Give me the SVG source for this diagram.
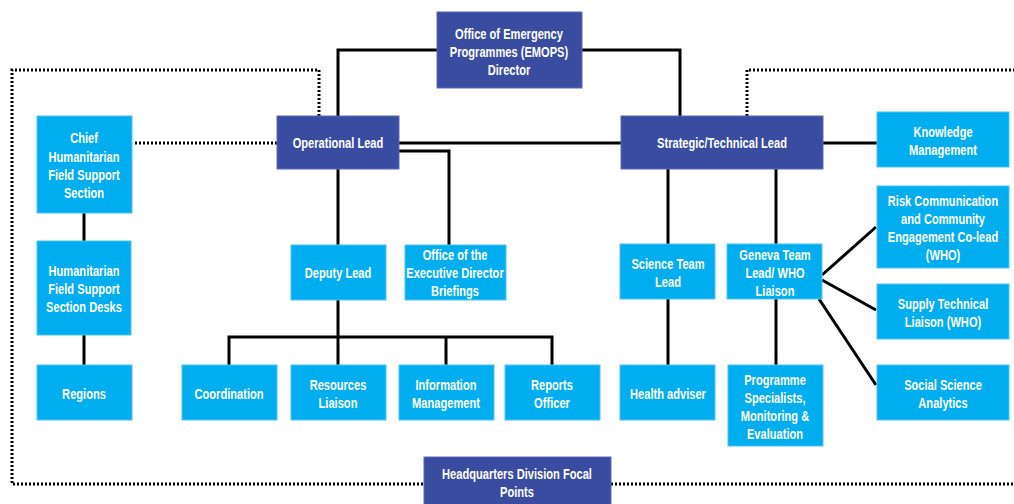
<svg xmlns="http://www.w3.org/2000/svg" width="1014" height="504" viewBox="0 0 1014 504">
<style>
.dk{fill:#3A4CA0;stroke:#5A6BB8;stroke-width:1}
.lt{fill:#00AEEF;stroke:#4CC4F2;stroke-width:1}
text{font-family:"Liberation Sans",Arial,sans-serif;font-weight:bold;font-size:15px;fill:#fff;text-anchor:middle}
.ln{fill:none;stroke:#000;stroke-width:3}
.dot{fill:none;stroke:#000;stroke-width:3;stroke-dasharray:2 2}
</style>
<rect width="1014" height="504" fill="#fff"/>
<g id="connectors">
<path class="dot" d="M319,116 V70 H12 V484 H424"/>
<path class="dot" d="M611,484 H1014"/>
<path class="dot" d="M747,116 V70 H1014"/>
<path class="dot" d="M135,143 H277"/>
<path class="ln" d="M437,50 H338 V116"/>
<path class="ln" d="M582,50 H680 V116"/>
<path class="ln" d="M399,143 H621"/>
<path class="ln" d="M823,143 H877"/>
<path class="ln" d="M399,151 H449 V245"/>
<path class="ln" d="M338,169 V245"/>
<path class="ln" d="M338,300 V365"/>
<path class="ln" d="M229,365 V337 H552 V365"/>
<path class="ln" d="M446,337 V365"/>
<path class="ln" d="M84,213 V241"/>
<path class="ln" d="M84,335 V365"/>
<path class="ln" d="M668,169 V244"/>
<path class="ln" d="M776,169 V244"/>
<path class="ln" d="M668,299 V365"/>
<path class="ln" d="M776,299 V365"/>
<path class="ln" d="M822,275 L876,227"/>
<path class="ln" d="M822,280 L876,310"/>
<path class="ln" d="M819,299 L876,385"/>
</g>
<g id="emops"><rect class="dk" x="437" y="12" width="145" height="76"/><g transform="matrix(0.74 0 0 1 509 0)"><text x="0" y="39">Office of Emergency</text><text x="0" y="57">Programmes (EMOPS)</text><text x="0" y="75">Director</text></g></g>
<g id="oplead"><rect class="dk" x="277" y="116" width="122" height="53"/><g transform="matrix(0.74 0 0 1 338 0)"><text x="0" y="148">Operational Lead</text></g></g>
<g id="stratlead"><rect class="dk" x="621" y="116" width="202" height="53"/><g transform="matrix(0.74 0 0 1 722 0)"><text x="0" y="148">Strategic/Technical Lead</text></g></g>
<g id="km"><rect class="lt" x="877" y="112" width="132" height="55"/><g transform="matrix(0.74 0 0 1 943 0)"><text x="0" y="137">Knowledge</text><text x="0" y="155">Management</text></g></g>
<g id="chief"><rect class="lt" x="37" y="116" width="95" height="97"/><g transform="matrix(0.74 0 0 1 84 0)"><text x="0" y="143">Chief</text><text x="0" y="162">Humanitarian</text><text x="0" y="180">Field Support</text><text x="0" y="198">Section</text></g></g>
<g id="hfssdesks"><rect class="lt" x="37" y="241" width="94" height="94"/><g transform="matrix(0.74 0 0 1 84 0)"><text x="0" y="276">Humanitarian</text><text x="0" y="294">Field Support</text><text x="0" y="312">Section Desks</text></g></g>
<g id="regions"><rect class="lt" x="37" y="365" width="95" height="55"/><g transform="matrix(0.74 0 0 1 84 0)"><text x="0" y="399">Regions</text></g></g>
<g id="deputy"><rect class="lt" x="291" y="245" width="95" height="55"/><g transform="matrix(0.74 0 0 1 338 0)"><text x="0" y="278">Deputy Lead</text></g></g>
<g id="oed"><rect class="lt" x="405" y="245" width="101" height="55"/><g transform="matrix(0.74 0 0 1 455 0)"><text x="0" y="260">Office of the</text><text x="0" y="278">Executive Director</text><text x="0" y="296">Briefings</text></g></g>
<g id="coord"><rect class="lt" x="182" y="365" width="95" height="55"/><g transform="matrix(0.74 0 0 1 229 0)"><text x="0" y="399">Coordination</text></g></g>
<g id="resources"><rect class="lt" x="291" y="365" width="95" height="55"/><g transform="matrix(0.74 0 0 1 338 0)"><text x="0" y="390">Resources</text><text x="0" y="408">Liaison</text></g></g>
<g id="infomgmt"><rect class="lt" x="399" y="365" width="95" height="55"/><g transform="matrix(0.74 0 0 1 446 0)"><text x="0" y="390">Information</text><text x="0" y="408">Management</text></g></g>
<g id="reports"><rect class="lt" x="505" y="365" width="95" height="55"/><g transform="matrix(0.74 0 0 1 552 0)"><text x="0" y="390">Reports</text><text x="0" y="408">Officer</text></g></g>
<g id="science"><rect class="lt" x="620" y="244" width="95" height="55"/><g transform="matrix(0.74 0 0 1 668 0)"><text x="0" y="269">Science Team</text><text x="0" y="287">Lead</text></g></g>
<g id="geneva"><rect class="lt" x="727" y="244" width="95" height="55"/><g transform="matrix(0.74 0 0 1 775 0)"><text x="0" y="260">Geneva Team</text><text x="0" y="278">Lead/ WHO</text><text x="0" y="296">Liaison</text></g></g>
<g id="health"><rect class="lt" x="620" y="365" width="95" height="55"/><g transform="matrix(0.74 0 0 1 668 0)"><text x="0" y="399">Health adviser</text></g></g>
<g id="programme"><rect class="lt" x="728" y="365" width="95" height="81"/><g transform="matrix(0.74 0 0 1 775 0)"><text x="0" y="385">Programme</text><text x="0" y="403">Specialists,</text><text x="0" y="421">Monitoring &amp;</text><text x="0" y="439">Evaluation</text></g></g>
<g id="risk"><rect class="lt" x="877" y="186" width="132" height="82"/><g transform="matrix(0.74 0 0 1 943 0)"><text x="0" y="206">Risk Communication</text><text x="0" y="224">and Community</text><text x="0" y="242">Engagement Co-lead</text><text x="0" y="260">(WHO)</text></g></g>
<g id="supply"><rect class="lt" x="877" y="284" width="132" height="55"/><g transform="matrix(0.74 0 0 1 943 0)"><text x="0" y="309">Supply Technical</text><text x="0" y="327">Liaison (WHO)</text></g></g>
<g id="social"><rect class="lt" x="877" y="365" width="132" height="55"/><g transform="matrix(0.74 0 0 1 943 0)"><text x="0" y="390">Social Science</text><text x="0" y="408">Analytics</text></g></g>
<g id="hq"><rect class="dk" x="424" y="457" width="187" height="52"/><g transform="matrix(0.74 0 0 1 517 0)"><text x="0" y="479">Headquarters Division Focal</text><text x="0" y="497">Points</text></g></g>
</svg>
